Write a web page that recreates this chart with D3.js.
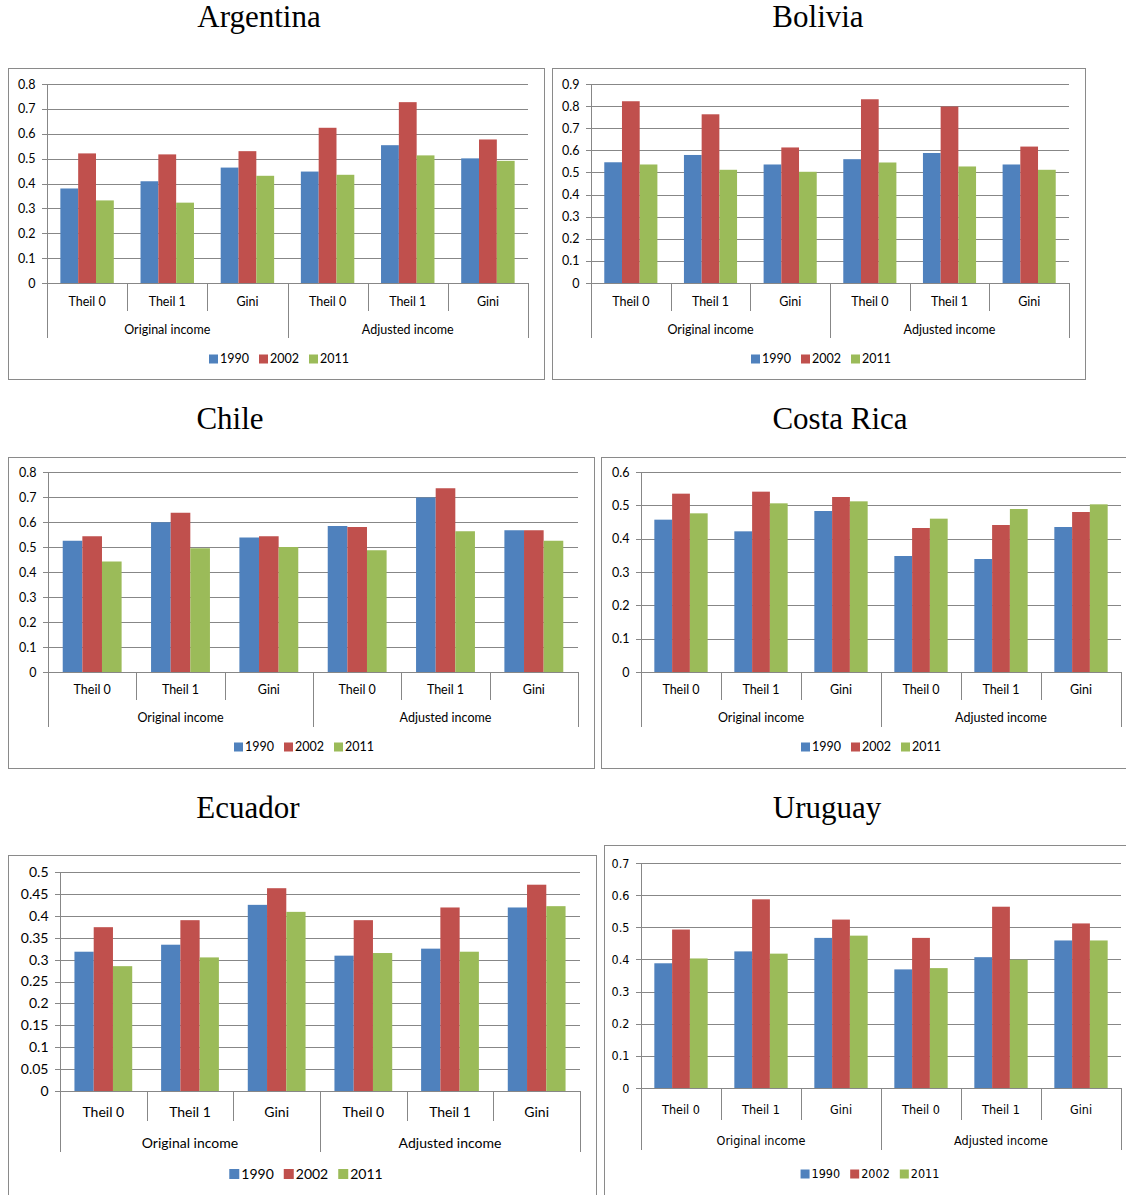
<!DOCTYPE html>
<html>
<head>
<meta charset="utf-8">
<script src="https://cdn.jsdelivr.net/npm/d3@7"></script>
<style>
  body { margin: 0; background: #fff; }
</style>
</head>
<body>
<svg id="chart" width="1126" height="1195"></svg>
<script>
// Series and categories
const years = ["1990", "2002", "2011"];
const measures = ["Theil 0", "Theil 1", "Gini"];
const incomeGroups = ["Original income", "Adjusted income"];

// Values per year, ordered: Original (Theil 0, Theil 1, Gini), Adjusted (Theil 0, Theil 1, Gini)
const argentina1990 = [0.380, 0.409, 0.464, 0.448, 0.554, 0.501];
const argentina2002 = [0.521, 0.517, 0.530, 0.624, 0.727, 0.577];
const argentina2011 = [0.332, 0.323, 0.431, 0.435, 0.513, 0.491];

const bolivia1990 = [0.546, 0.579, 0.536, 0.560, 0.588, 0.536];
const bolivia2002 = [0.822, 0.763, 0.613, 0.831, 0.798, 0.617];
const bolivia2011 = [0.536, 0.512, 0.503, 0.545, 0.527, 0.512];

const chile1990 = [0.525, 0.599, 0.538, 0.584, 0.698, 0.567];
const chile2002 = [0.543, 0.637, 0.543, 0.580, 0.735, 0.567];
const chile2011 = [0.442, 0.495, 0.500, 0.487, 0.563, 0.525];

const costaRica1990 = [0.457, 0.422, 0.483, 0.348, 0.339, 0.435];
const costaRica2002 = [0.535, 0.541, 0.525, 0.432, 0.441, 0.480];
const costaRica2011 = [0.476, 0.506, 0.512, 0.460, 0.489, 0.503];

const ecuador1990 = [0.318, 0.334, 0.425, 0.309, 0.325, 0.419];
const ecuador2002 = [0.374, 0.390, 0.463, 0.390, 0.419, 0.471];
const ecuador2011 = [0.285, 0.305, 0.409, 0.315, 0.318, 0.422];

const uruguay1990 = [0.388, 0.425, 0.467, 0.369, 0.407, 0.459];
const uruguay2002 = [0.493, 0.587, 0.524, 0.467, 0.564, 0.512];
const uruguay2011 = [0.403, 0.418, 0.474, 0.373, 0.399, 0.459];

// Value-axis ticks
const ticks06 = [0, 0.1, 0.2, 0.3, 0.4, 0.5, 0.6];
const ticks07 = [0, 0.1, 0.2, 0.3, 0.4, 0.5, 0.6, 0.7];
const ticks08 = [0, 0.1, 0.2, 0.3, 0.4, 0.5, 0.6, 0.7, 0.8];
const ticks09 = [0, 0.1, 0.2, 0.3, 0.4, 0.5, 0.6, 0.7, 0.8, 0.9];
const ticks05 = [0, 0.05, 0.1, 0.15, 0.2, 0.25, 0.3, 0.35, 0.4, 0.45, 0.5];

const colors = ["#4F81BD", "#C0504D", "#9BBB59"];
const gridColor = "#878787";
const frameColor = "#8a8a8a";
const textColor = "#000";

const sansFamily = "Lato, 'Open Sans', sans-serif";
const narrowFamily = "'Liberation Sans Narrow', 'Arial Narrow', 'DejaVu Sans Condensed', sans-serif";

// Panel layout
const panels = [
  { title: "Argentina", series: [argentina1990, argentina2002, argentina2011], ticks: ticks08,
    frame: [8, 68, 544, 379], plot: [47, 528, 84, 283], titlePos: [259, 27],
    text: [19, 47, 76], lines: [28, 55], legendCx: 279, size: 12.5, family: sansFamily },
  { title: "Bolivia", series: [bolivia1990, bolivia2002, bolivia2011], ticks: ticks09,
    frame: [552, 68, 1085, 379], plot: [591, 1069, 84, 283], titlePos: [818, 27],
    text: [19, 47, 76], lines: [28, 55], legendCx: 821, size: 12.5, family: sansFamily },
  { title: "Chile", series: [chile1990, chile2002, chile2011], ticks: ticks08,
    frame: [8, 457, 594, 768], plot: [48, 578, 472, 672], titlePos: [230, 429],
    text: [18, 46, 75], lines: [28, 55], legendCx: 304, size: 12.5, family: sansFamily },
  { title: "Costa Rica", series: [costaRica1990, costaRica2002, costaRica2011], ticks: ticks06,
    frame: [601, 457, 1145, 768], plot: [641, 1121, 472, 672], titlePos: [840, 429],
    text: [18, 46, 75], lines: [28, 55], legendCx: 871, size: 12.5, family: sansFamily },
  { title: "Ecuador", series: [ecuador1990, ecuador2002, ecuador2011], ticks: ticks05,
    frame: [8, 855, 596, 1210], plot: [60, 580, 872, 1091], titlePos: [248, 818],
    text: [21, 52, 83], lines: [30, 61], legendCx: 306, size: 14, family: sansFamily },
  { title: "Uruguay", series: [uruguay1990, uruguay2002, uruguay2011], ticks: ticks07,
    frame: [604, 845, 1145, 1210], plot: [641, 1121, 863, 1088], titlePos: [827, 818],
    text: [22, 53, 86], lines: [32, 62], legendCx: 870, size: 12.5, family: narrowFamily }
];

const svg = d3.select("#chart");

const categories = [];
incomeGroups.forEach(g => measures.forEach(m => categories.push(g + "|" + m)));

panels.forEach(p => {
  const g = svg.append("g");
  const [fx0, fy0, fx1, fy1] = p.frame;
  const [left, right, top, zero] = p.plot;

  // frame
  g.append("rect")
    .attr("x", fx0 + 0.5).attr("y", fy0 + 0.5)
    .attr("width", fx1 - fx0).attr("height", fy1 - fy0)
    .attr("fill", "#fff").attr("stroke", frameColor).attr("stroke-width", 1);

  // title
  g.append("text")
    .attr("x", p.titlePos[0]).attr("y", p.titlePos[1])
    .attr("text-anchor", "middle")
    .attr("font-family", "'Liberation Serif', 'Times New Roman', serif")
    .attr("font-size", 31).attr("fill", textColor)
    .text(p.title);

  const y = d3.scaleLinear()
    .domain([0, p.ticks[p.ticks.length - 1]])
    .range([zero, top]);

  const x0 = d3.scaleBand().domain(categories).range([left, right]).paddingInner(0).paddingOuter(0);
  const x1 = d3.scaleBand().domain(years).range([0, x0.bandwidth()]).paddingInner(0).paddingOuter(0.75);

  // gridlines
  g.append("g").selectAll("line").data(p.ticks).join("line")
    .attr("x1", left - 5).attr("x2", right)
    .attr("y1", d => Math.round(y(d)) + 0.5).attr("y2", d => Math.round(y(d)) + 0.5)
    .attr("stroke", gridColor).attr("stroke-width", 1);

  // value axis
  const yAxis = d3.axisLeft(y).tickValues(p.ticks).tickSize(0).tickPadding(12)
    .tickFormat(d => String(d));
  const ya = g.append("g").attr("transform", `translate(${left + 0.5},0)`).call(yAxis);
  ya.select(".domain").attr("stroke", gridColor).attr("d", `M0,${top}V${zero}`);
  ya.selectAll("text")
    .attr("font-family", p.family).attr("font-size", p.size).attr("fill", textColor);

  // bars
  years.forEach((yr, si) => {
    g.append("g").selectAll("rect").data(p.series[si]).join("rect")
      .attr("x", (d, i) => x0(categories[i]) + x1(yr))
      .attr("width", x1.bandwidth())
      .attr("y", d => y(d))
      .attr("height", d => zero - y(d))
      .attr("fill", colors[si]);
  });

  // category axis: separators
  const bounds = d3.range(categories.length + 1);
  g.append("g").selectAll("line").data(bounds).join("line")
    .attr("x1", i => Math.round(i < categories.length ? x0(categories[i]) : right) + 0.5)
    .attr("x2", i => Math.round(i < categories.length ? x0(categories[i]) : right) + 0.5)
    .attr("y1", zero)
    .attr("y2", i => zero + (i % measures.length === 0 ? p.lines[1] : p.lines[0]))
    .attr("stroke", gridColor).attr("stroke-width", 1);

  // measure labels
  g.append("g").selectAll("text").data(categories).join("text")
    .attr("x", c => x0(c) + x0.bandwidth() / 2)
    .attr("y", zero + p.text[0]).attr("dy", "0.35em")
    .attr("text-anchor", "middle")
    .attr("font-family", p.family).attr("font-size", p.size).attr("fill", textColor)
    .text(c => c.split("|")[1]);

  // income group labels
  g.append("g").selectAll("text").data(incomeGroups).join("text")
    .attr("x", (d, i) => {
      const a = x0(categories[i * measures.length]);
      return a + x0.bandwidth() * measures.length / 2;
    })
    .attr("y", zero + p.text[1]).attr("dy", "0.35em")
    .attr("text-anchor", "middle")
    .attr("font-family", p.family).attr("font-size", p.size).attr("fill", textColor)
    .text(d => d);

  // legend
  const lg = g.append("g");
  const sq = p.size <= 13 ? 9 : 10;
  let cursor = 0;
  years.forEach((yr, i) => {
    const it = lg.append("g");
    it.append("rect").attr("x", 0).attr("y", -sq / 2).attr("width", sq).attr("height", sq).attr("fill", colors[i]);
    const t = it.append("text").attr("x", sq + 2).attr("dy", "0.35em")
      .attr("font-family", p.family).attr("font-size", p.size).attr("fill", textColor).text(yr);
    const w = sq + 2 + t.node().getComputedTextLength();
    it.attr("transform", `translate(${cursor},0)`);
    cursor += w + 10;
  });
  const total = cursor - 10;
  lg.attr("transform", `translate(${p.legendCx - total / 2},${zero + p.text[2]})`);
});
</script>
</body>
</html>
